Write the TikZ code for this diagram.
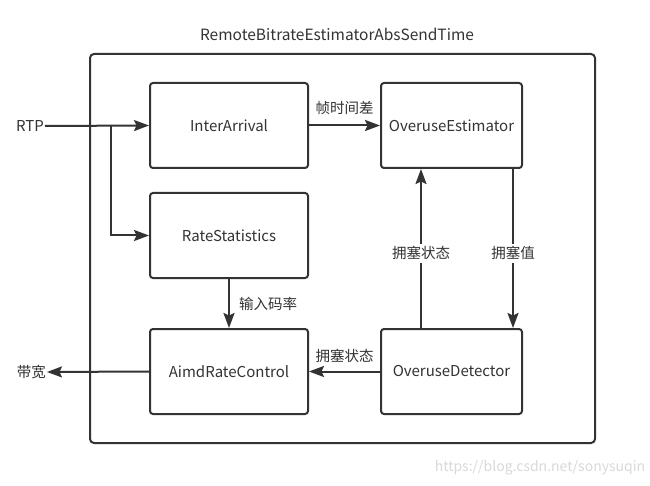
\documentclass[tikz,border=0pt]{standalone}
\usepackage{fontspec}
\setmainfont{Noto Sans CJK SC}
\usetikzlibrary{arrows.meta}
\definecolor{ln}{HTML}{333333}
\definecolor{tx}{HTML}{333333}
\tikzset{
  blk/.style={draw=ln, line width=2pt, rounded corners=3pt, minimum width=158pt, minimum height=85pt, inner sep=0pt, font=\fontsize{15}{18}\selectfont, text=tx},
  blk2/.style={blk, minimum width=141pt},
  con/.style={draw=ln, line width=2pt, -{Stealth[length=15pt,width=11pt,inset=2.5pt]}},
  lbl/.style={font=\fontsize{14.5}{17}\selectfont, text=tx, inner sep=1pt},
}
\begin{document}
\begin{tikzpicture}[x=1pt,y=-1pt]
\useasboundingbox (0,0) rectangle (650,486);
\fill[white] (0,0) rectangle (650,486);
\node[draw=ln, line width=2pt, rounded corners=4pt, minimum width=505pt, minimum height=389pt, inner sep=0pt] (frame) at (342.5,248.5) {};
\node[lbl, font=\fontsize{15.5}{18}\selectfont] (title) at (337,34) {RemoteBitrateEstimatorAbsSendTime};
\node[blk] (ia) at (229,125.5) {InterArrival};
\node[blk2] (oe) at (451.5,125.5) {OveruseEstimator};
\node[blk] (rs) at (229,235.5) {RateStatistics};
\node[blk] (arc) at (229,371.5) {AimdRateControl};
\node[blk2] (od) at (451.5,371.5) {OveruseDetector};
\node[lbl, font=\fontsize{15}{18}\selectfont, anchor=east] (rtp) at (45,126) {RTP};
\node[lbl, anchor=east] (bw) at (47,372) {带宽};
\coordinate (br) at (111,126);
\draw[con] (rtp.east) -- (ia.west);
\draw[con] (br) |- (rs.west);
\draw[con] (ia.east) -- node[lbl, above=9pt] {帧时间差} (oe.west);
\draw[con] (rs.south) -- node[lbl, right=8pt] {输入码率} (arc.north);
\draw[con] (od.west) -- node[lbl, above=7pt] {拥塞状态} (arc.east);
\draw[con] (arc.west) -- (bw.east);
\draw[con] (od.north -| 421,0) -- node[lbl, fill=white, inner sep=3pt, pos=0.47] {拥塞状态} (oe.south -| 421,0);
\draw[con] (oe.south -| 513,0) -- node[lbl, fill=white, inner sep=3pt, pos=0.53] {拥塞值} (od.north -| 513,0);
\node[font=\fontsize{14}{16}\selectfont, text=black!15] (wm) at (540,468) {https://blog.csdn.net/sonysuqin};
\end{tikzpicture}
\end{document}
